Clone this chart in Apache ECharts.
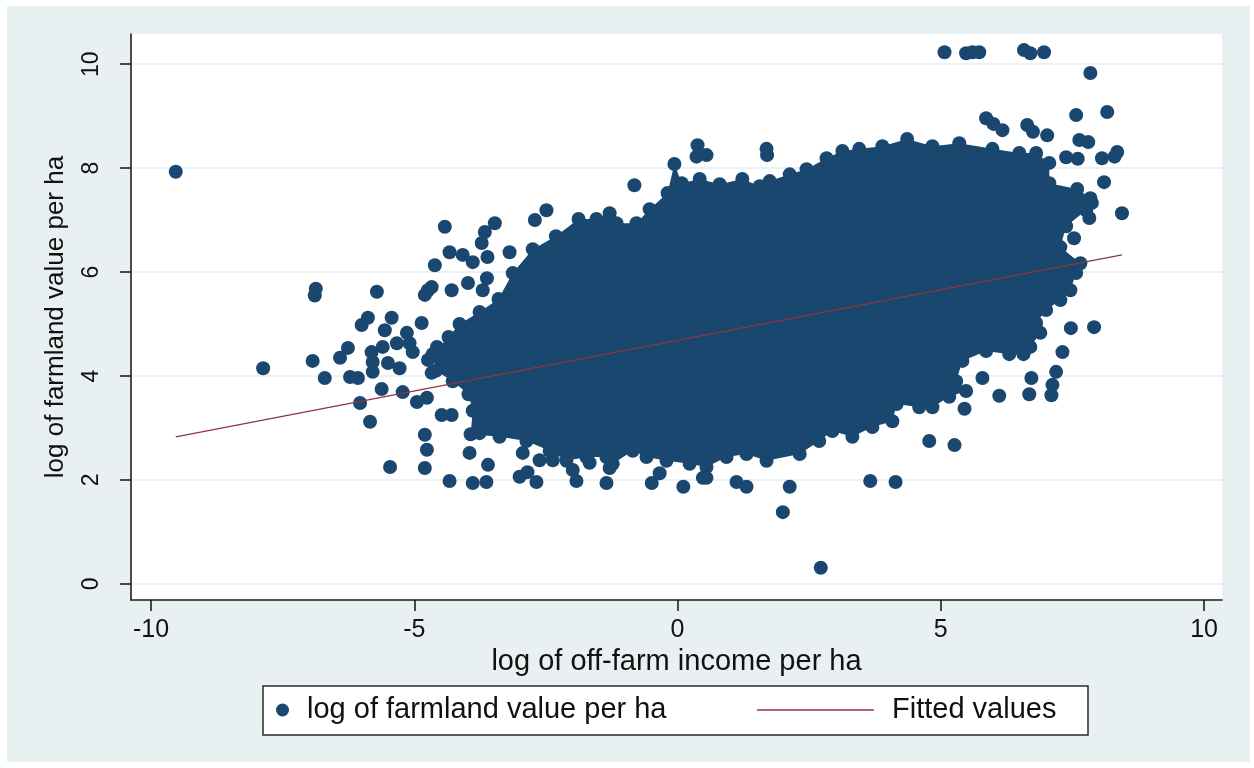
<!DOCTYPE html>
<html>
<head>
<meta charset="utf-8">
<title>Farmland value vs off-farm income</title>
<script src="https://cdn.jsdelivr.net/npm/echarts@6/dist/echarts.min.js"></script>
<style>
  html, body { margin: 0; padding: 0; background: #ffffff; }
  #chart { position: absolute; left: 7px; top: 6px; width: 1243px; height: 756px; }
</style>
</head>
<body>
<div id="chart"></div>
<script>
// Tick labels
const xTicks = [-10, -5, 0, 5, 10];
const yTicks = [0, 2, 4, 6, 8, 10];

// Outline of the dense cloud of observations (x, y), traced clockwise
const massOutline = [
  [-4.35, 4.75], [-4.14, 5.00], [-3.76, 5.23], [-3.40, 5.48], [-3.13, 5.98], [-2.75, 6.44],
  [-2.31, 6.69], [-1.88, 7.02], [-1.54, 7.02], [-1.29, 7.13], [-1.16, 6.94], [-0.78, 6.94],
  [-0.53, 7.21], [-0.19, 7.52], [-0.06, 8.08], [0.08, 7.71], [0.42, 7.79], [0.80, 7.69],
  [1.23, 7.79], [1.56, 7.65], [1.75, 7.75], [2.13, 7.88], [2.45, 7.98], [2.83, 8.19],
  [3.13, 8.33], [3.45, 8.37], [3.89, 8.42], [4.36, 8.56], [4.84, 8.42], [5.35, 8.48],
  [5.98, 8.37], [6.49, 8.29], [6.81, 8.29], [7.06, 8.10], [7.06, 7.71], [7.59, 7.60],
  [7.84, 7.42], [7.76, 7.19], [7.38, 6.88], [7.27, 6.48], [7.65, 6.17], [7.57, 5.98],
  [7.46, 5.65], [7.27, 5.46], [7.00, 5.27], [6.81, 5.02], [6.89, 4.83], [6.70, 4.56],
  [6.57, 4.42], [6.30, 4.42], [5.86, 4.48], [5.41, 4.29], [5.29, 3.90], [5.48, 3.71],
  [5.16, 3.60], [4.84, 3.40], [4.59, 3.40], [4.16, 3.46], [4.08, 3.13], [3.70, 3.02],
  [3.32, 2.83], [2.94, 2.94], [2.69, 2.75], [2.32, 2.50], [1.69, 2.37], [1.31, 2.50],
  [0.93, 2.44], [0.55, 2.25], [0.23, 2.31], [-0.21, 2.37], [-0.59, 2.44], [-0.85, 2.56],
  [-1.23, 2.31], [-1.35, 2.44], [-1.73, 2.44], [-2.11, 2.37], [-2.43, 2.56], [-2.87, 2.75],
  [-3.38, 2.83], [-3.93, 2.88], [-3.89, 3.33], [-3.97, 3.65], [-4.27, 3.90], [-4.59, 4.10],
  [-4.65, 4.42]
];

// Observations lying outside the dense cloud
const outliers = [
  [-9.53, 7.93], [-7.87, 4.15], [-6.93, 4.29], [-6.70, 3.96], [-6.89, 5.55], [-6.87, 5.68],
  [-6.41, 4.35], [-6.26, 4.54], [-6.22, 3.98], [-6.07, 3.96], [-6.03, 3.48], [-5.84, 3.12],
  [-6.00, 4.98], [-5.88, 5.12], [-5.71, 5.62], [-5.56, 4.88], [-5.43, 5.12],
  [-5.81, 4.46], [-5.60, 4.56], [-5.33, 4.63], [-5.79, 4.27], [-5.50, 4.25], [-5.28, 4.15],
  [-5.79, 4.08], [-5.62, 3.75], [-5.46, 2.25], [-5.22, 3.69], [-4.95, 3.50], [-4.76, 3.58],
  [-5.14, 4.83], [-5.09, 4.63], [-5.03, 4.46], [-4.86, 5.02],
  [-4.80, 5.56], [-4.74, 5.65], [-4.67, 5.71], [-4.29, 5.65], [-3.98, 5.79], [-3.70, 5.65],
  [-3.62, 5.88], [-4.57, 4.56], [-4.74, 4.31], [-4.67, 4.06],
  [-4.48, 3.25], [-4.29, 3.25], [-4.80, 2.87], [-4.76, 2.58], [-4.80, 2.23],
  [-4.61, 6.13], [-4.42, 6.87], [-4.33, 6.38], [-4.08, 6.33], [-3.89, 6.19], [-3.61, 6.29],
  [-3.19, 6.38], [-3.72, 6.56], [-3.66, 6.77], [-3.47, 6.94], [-2.71, 7.00], [-2.49, 7.19],
  [-0.82, 7.67],
  [-3.76, 3.15], [-3.76, 2.90], [-3.95, 2.52], [-3.60, 2.29], [-2.94, 2.52], [-2.62, 2.38],
  [-2.37, 2.38], [-1.99, 2.19], [-1.67, 2.33], [-1.29, 2.23], [-0.34, 2.13], [-0.49, 1.94],
  [0.48, 2.04],
  [-4.33, 1.98], [-3.89, 1.94], [-3.63, 1.96], [-3.00, 2.06], [-2.85, 2.15], [-2.68, 1.96],
  [-1.92, 1.98], [-1.35, 1.94], [0.11, 1.87], [0.55, 2.04], [1.12, 1.96], [1.31, 1.87],
  [2.13, 1.87], [2.00, 1.38], [2.72, 0.31],
  [0.36, 8.22], [0.38, 8.44], [0.55, 8.25], [1.69, 8.37], [1.70, 8.25],
  [5.07, 10.23], [5.48, 10.21], [5.60, 10.23], [5.73, 10.23], [6.58, 10.27], [6.70, 10.21],
  [6.96, 10.23], [7.84, 9.83],
  [7.57, 9.02], [8.16, 9.08], [5.86, 8.96], [6.00, 8.85], [6.17, 8.73], [6.64, 8.83],
  [6.75, 8.70], [7.02, 8.63], [7.63, 8.54], [7.80, 8.50], [8.35, 8.31], [8.30, 8.22],
  [8.06, 8.19], [7.38, 8.21], [7.60, 8.18], [8.10, 7.73],
  [8.44, 7.13], [7.82, 7.04], [7.87, 7.33], [7.53, 6.65],
  [7.47, 4.92], [7.91, 4.94], [7.31, 4.46], [7.19, 4.08], [7.12, 3.83], [7.10, 3.63],
  [6.72, 3.96], [6.68, 3.65], [6.11, 3.62], [5.79, 3.96], [5.45, 3.37], [4.78, 2.75],
  [5.26, 2.67], [3.66, 1.98], [4.14, 1.96]
];

// Linear fit over the observed range of x
const fitX = [-9.53, 8.44];
const fitY = [2.83, 6.33];

const NAVY = '#1a476f';
const MAROON = '#90353b';
const FONT = '"Liberation Sans", Arial, sans-serif';
const SERIES_NAME = 'log of farmland value per ha';
const FIT_NAME = 'Fitted values';

const chart = echarts.init(document.getElementById('chart'), null, { renderer: 'canvas' });

const option = {
  backgroundColor: '#e8f0f2',
  animation: false,
  textStyle: { fontFamily: FONT, color: '#111' },
  grid: {
    left: 124, top: 28, width: 1091, height: 566,
    show: true, backgroundColor: '#ffffff', borderWidth: 0
  },
  xAxis: {
    type: 'value',
    min: -10.38, max: 10.34,
    name: 'log of off-farm income per ha',
    nameLocation: 'middle',
    nameGap: 42,
    nameTextStyle: { fontSize: 29, fontFamily: FONT, color: '#111' },
    axisLine: { show: true, onZero: false, lineStyle: { color: '#1e1e1e', width: 1.6 } },
    axisTick: { show: true, length: 11, customValues: xTicks, lineStyle: { color: '#1e1e1e', width: 1.6 } },
    axisLabel: { customValues: xTicks, fontSize: 25, margin: 18, color: '#111', fontFamily: FONT },
    splitLine: { show: false }
  },
  yAxis: {
    type: 'value',
    min: -0.31, max: 10.58,
    name: 'log of farmland value per ha',
    nameLocation: 'middle',
    nameGap: 62,
    nameTextStyle: { fontSize: 26, fontFamily: FONT, color: '#111' },
    axisLine: { show: true, onZero: false, lineStyle: { color: '#1e1e1e', width: 1.6 } },
    axisTick: { show: true, length: 11, customValues: yTicks, lineStyle: { color: '#1e1e1e', width: 1.6 } },
    axisLabel: { customValues: yTicks, rotate: 90, fontSize: 23, margin: 28, color: '#111', fontFamily: FONT },
    splitLine: { show: true, lineStyle: { color: '#e5eef1', width: 1.5 } }
  },
  legend: [
    {
      data: [SERIES_NAME],
      left: 269, top: 689, padding: 0,
      itemWidth: 13, itemHeight: 13,
      textStyle: { fontSize: 29, fontFamily: FONT, color: '#111', padding: [0, 0, 0, 13], lineHeight: 30 },
      selectedMode: false, z: 10
    },
    {
      data: [{ name: FIT_NAME, icon: 'rect' }],
      left: 750, top: 689, padding: 0,
      itemWidth: 117, itemHeight: 1.5,
      textStyle: { fontSize: 29, fontFamily: FONT, color: '#111', padding: [0, 0, 0, 13], lineHeight: 30 },
      selectedMode: false, z: 10
    }
  ],
  graphic: [
    {
      type: 'rect', z: 1,
      shape: { x: 256, y: 680, width: 825, height: 49 },
      style: { fill: '#ffffff', stroke: '#2a2a2a', lineWidth: 1.5 }
    }
  ],
  series: [
    {
      // solid body of the cloud, filled between its outline points
      type: 'custom',
      name: 'cloud',
      silent: true,
      data: massOutline,
      encode: { x: 0, y: 1 },
      z: 1,
      renderItem: function (params, api) {
        if (params.dataIndex !== 0) return null;
        const pts = massOutline.map(function (p) { return api.coord(p); });
        return { type: 'polygon', shape: { points: pts }, style: { fill: NAVY } };
      }
    },
    {
      type: 'scatter',
      name: SERIES_NAME,
      data: massOutline.concat(outliers),
      symbol: 'circle',
      symbolSize: 14,
      itemStyle: { color: NAVY, opacity: 1 },
      z: 2
    },
    {
      type: 'line',
      name: FIT_NAME,
      data: fitX.map(function (x, i) { return [x, fitY[i]]; }),
      symbol: 'none',
      lineStyle: { color: MAROON, width: 1.3 },
      itemStyle: { color: MAROON },
      z: 3
    }
  ]
};

chart.setOption(option);
</script>
</body>
</html>
